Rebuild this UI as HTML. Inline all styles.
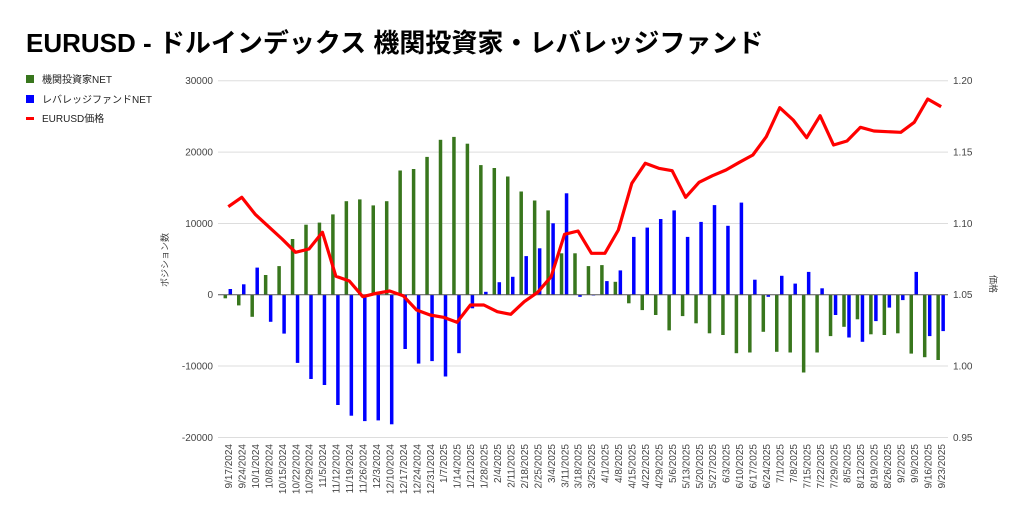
<!DOCTYPE html>
<html><head><meta charset="utf-8"><style>
html,body{margin:0;padding:0;background:#fff;}
svg{display:block;font-family:"Liberation Sans","Noto Sans CJK JP",sans-serif;}
.t{font-size:10px;fill:#444;}
</style></head><body>
<svg width="1024" height="517" viewBox="0 0 1024 517" xmlns="http://www.w3.org/2000/svg">
<text x="26" y="52" style="font-size:26px;font-weight:bold;fill:#000;font-family:'Liberation Sans','Noto Sans CJK JP',sans-serif">EURUSD - ドルインデックス 機関投資家・レバレッジファンド</text>
<rect x="26" y="75" width="8" height="8" fill="#38761d"/>
<text x="42" y="83" class="t" style="fill:#222">機関投資家NET</text>
<rect x="26" y="95" width="8" height="8" fill="#0000ff"/>
<text x="42" y="103" class="t" style="fill:#222">レバレッジファンドNET</text>
<rect x="26" y="117" width="8" height="3" fill="#ff0000"/>
<text x="42" y="122" class="t" style="fill:#222">EURUSD価格</text>
<g stroke="#ddd" stroke-width="1">
<line x1="218" x2="948" y1="80.7" y2="80.7"/>
<line x1="218" x2="948" y1="152.1" y2="152.1"/>
<line x1="218" x2="948" y1="223.5" y2="223.5"/>
<line x1="218" x2="948" y1="366" y2="366"/>
<line x1="218" x2="948" y1="437.5" y2="437.5"/>
</g>
<g class="t" text-anchor="end">
<text x="213" y="84">30000</text>
<text x="213" y="155.5">20000</text>
<text x="213" y="227">10000</text>
<text x="213" y="298">0</text>
<text x="213" y="369.5">-10000</text>
<text x="213" y="441">-20000</text>
</g>
<g class="t">
<text x="953" y="84">1.20</text>
<text x="953" y="155.5">1.15</text>
<text x="953" y="227">1.10</text>
<text x="953" y="298">1.05</text>
<text x="953" y="369.5">1.00</text>
<text x="953" y="441">0.95</text>
</g>
<text class="t" transform="translate(168,260) rotate(-90)" text-anchor="middle" style="font-size:9px">ポジション数</text>
<text class="t" transform="translate(990,284) rotate(90)" text-anchor="middle" style="font-size:9px">価格</text>
<g>
<g transform="translate(225.3,294.7)"><rect x="-1.75" y="0" width="3.5" height="3.6" fill="#38761d"/><rect x="3.25" y="-5.7" width="3.5" height="5.7" fill="#0000ff"/></g>
<g transform="translate(238.75,294.7)"><rect x="-1.75" y="0" width="3.5" height="10.7" fill="#38761d"/><rect x="3.25" y="-10.4" width="3.5" height="10.4" fill="#0000ff"/></g>
<g transform="translate(252.2,294.7)"><rect x="-1.75" y="0" width="3.5" height="22.1" fill="#38761d"/><rect x="3.25" y="-27.1" width="3.5" height="27.1" fill="#0000ff"/></g>
<g transform="translate(265.65,294.7)"><rect x="-1.75" y="-19.7" width="3.5" height="19.7" fill="#38761d"/><rect x="3.25" y="0" width="3.5" height="27.1" fill="#0000ff"/></g>
<g transform="translate(279.1,294.7)"><rect x="-1.75" y="-28.6" width="3.5" height="28.6" fill="#38761d"/><rect x="3.25" y="0" width="3.5" height="38.9" fill="#0000ff"/></g>
<g transform="translate(292.55,294.7)"><rect x="-1.75" y="-55.7" width="3.5" height="55.7" fill="#38761d"/><rect x="3.25" y="0" width="3.5" height="68.2" fill="#0000ff"/></g>
<g transform="translate(306,294.7)"><rect x="-1.75" y="-70" width="3.5" height="70" fill="#38761d"/><rect x="3.25" y="0" width="3.5" height="84.3" fill="#0000ff"/></g>
<g transform="translate(319.45,294.7)"><rect x="-1.75" y="-72.1" width="3.5" height="72.1" fill="#38761d"/><rect x="3.25" y="0" width="3.5" height="90.3" fill="#0000ff"/></g>
<g transform="translate(332.9,294.7)"><rect x="-1.75" y="-80.3" width="3.5" height="80.3" fill="#38761d"/><rect x="3.25" y="0" width="3.5" height="110.3" fill="#0000ff"/></g>
<g transform="translate(346.35,294.7)"><rect x="-1.75" y="-93.5" width="3.5" height="93.5" fill="#38761d"/><rect x="3.25" y="0" width="3.5" height="121" fill="#0000ff"/></g>
<g transform="translate(359.8,294.7)"><rect x="-1.75" y="-95.3" width="3.5" height="95.3" fill="#38761d"/><rect x="3.25" y="0" width="3.5" height="126.4" fill="#0000ff"/></g>
<g transform="translate(373.25,294.7)"><rect x="-1.75" y="-89.3" width="3.5" height="89.3" fill="#38761d"/><rect x="3.25" y="0" width="3.5" height="125.7" fill="#0000ff"/></g>
<g transform="translate(386.7,294.7)"><rect x="-1.75" y="-93.5" width="3.5" height="93.5" fill="#38761d"/><rect x="3.25" y="0" width="3.5" height="129.6" fill="#0000ff"/></g>
<g transform="translate(400.15,294.7)"><rect x="-1.75" y="-124.2" width="3.5" height="124.2" fill="#38761d"/><rect x="3.25" y="0" width="3.5" height="54.3" fill="#0000ff"/></g>
<g transform="translate(413.6,294.7)"><rect x="-1.75" y="-125.7" width="3.5" height="125.7" fill="#38761d"/><rect x="3.25" y="0" width="3.5" height="68.9" fill="#0000ff"/></g>
<g transform="translate(427.05,294.7)"><rect x="-1.75" y="-137.8" width="3.5" height="137.8" fill="#38761d"/><rect x="3.25" y="0" width="3.5" height="66.4" fill="#0000ff"/></g>
<g transform="translate(440.5,294.7)"><rect x="-1.75" y="-154.9" width="3.5" height="154.9" fill="#38761d"/><rect x="3.25" y="0" width="3.5" height="81.8" fill="#0000ff"/></g>
<g transform="translate(453.95,294.7)"><rect x="-1.75" y="-157.8" width="3.5" height="157.8" fill="#38761d"/><rect x="3.25" y="0" width="3.5" height="58.5" fill="#0000ff"/></g>
<g transform="translate(467.4,294.7)"><rect x="-1.75" y="-151" width="3.5" height="151" fill="#38761d"/><rect x="3.25" y="0" width="3.5" height="13.6" fill="#0000ff"/></g>
<g transform="translate(480.85,294.7)"><rect x="-1.75" y="-129.6" width="3.5" height="129.6" fill="#38761d"/><rect x="3.25" y="-2.9" width="3.5" height="2.9" fill="#0000ff"/></g>
<g transform="translate(494.3,294.7)"><rect x="-1.75" y="-126.7" width="3.5" height="126.7" fill="#38761d"/><rect x="3.25" y="-12.5" width="3.5" height="12.5" fill="#0000ff"/></g>
<g transform="translate(507.75,294.7)"><rect x="-1.75" y="-118.2" width="3.5" height="118.2" fill="#38761d"/><rect x="3.25" y="-17.9" width="3.5" height="17.9" fill="#0000ff"/></g>
<g transform="translate(521.2,294.7)"><rect x="-1.75" y="-103.2" width="3.5" height="103.2" fill="#38761d"/><rect x="3.25" y="-38.6" width="3.5" height="38.6" fill="#0000ff"/></g>
<g transform="translate(534.65,294.7)"><rect x="-1.75" y="-94.2" width="3.5" height="94.2" fill="#38761d"/><rect x="3.25" y="-46.4" width="3.5" height="46.4" fill="#0000ff"/></g>
<g transform="translate(548.1,294.7)"><rect x="-1.75" y="-84.3" width="3.5" height="84.3" fill="#38761d"/><rect x="3.25" y="-71.4" width="3.5" height="71.4" fill="#0000ff"/></g>
<g transform="translate(561.55,294.7)"><rect x="-1.75" y="-41.4" width="3.5" height="41.4" fill="#38761d"/><rect x="3.25" y="-101.4" width="3.5" height="101.4" fill="#0000ff"/></g>
<g transform="translate(575,294.7)"><rect x="-1.75" y="-41.4" width="3.5" height="41.4" fill="#38761d"/><rect x="3.25" y="0" width="3.5" height="2.1" fill="#0000ff"/></g>
<g transform="translate(588.45,294.7)"><rect x="-1.75" y="-28.6" width="3.5" height="28.6" fill="#38761d"/><rect x="3.25" y="0" width="3.5" height="0.8" fill="#0000ff"/></g>
<g transform="translate(601.9,294.7)"><rect x="-1.75" y="-29.6" width="3.5" height="29.6" fill="#38761d"/><rect x="3.25" y="-13.6" width="3.5" height="13.6" fill="#0000ff"/></g>
<g transform="translate(615.35,294.7)"><rect x="-1.75" y="-12.9" width="3.5" height="12.9" fill="#38761d"/><rect x="3.25" y="-24.3" width="3.5" height="24.3" fill="#0000ff"/></g>
<g transform="translate(628.8,294.7)"><rect x="-1.75" y="0" width="3.5" height="8.6" fill="#38761d"/><rect x="3.25" y="-57.8" width="3.5" height="57.8" fill="#0000ff"/></g>
<g transform="translate(642.25,294.7)"><rect x="-1.75" y="0" width="3.5" height="15.4" fill="#38761d"/><rect x="3.25" y="-67.1" width="3.5" height="67.1" fill="#0000ff"/></g>
<g transform="translate(655.7,294.7)"><rect x="-1.75" y="0" width="3.5" height="20.3" fill="#38761d"/><rect x="3.25" y="-75.7" width="3.5" height="75.7" fill="#0000ff"/></g>
<g transform="translate(669.15,294.7)"><rect x="-1.75" y="0" width="3.5" height="35.7" fill="#38761d"/><rect x="3.25" y="-84.3" width="3.5" height="84.3" fill="#0000ff"/></g>
<g transform="translate(682.6,294.7)"><rect x="-1.75" y="0" width="3.5" height="21.4" fill="#38761d"/><rect x="3.25" y="-57.8" width="3.5" height="57.8" fill="#0000ff"/></g>
<g transform="translate(696.05,294.7)"><rect x="-1.75" y="0" width="3.5" height="28.6" fill="#38761d"/><rect x="3.25" y="-72.8" width="3.5" height="72.8" fill="#0000ff"/></g>
<g transform="translate(709.5,294.7)"><rect x="-1.75" y="0" width="3.5" height="38.6" fill="#38761d"/><rect x="3.25" y="-89.6" width="3.5" height="89.6" fill="#0000ff"/></g>
<g transform="translate(722.95,294.7)"><rect x="-1.75" y="0" width="3.5" height="40.3" fill="#38761d"/><rect x="3.25" y="-68.9" width="3.5" height="68.9" fill="#0000ff"/></g>
<g transform="translate(736.4,294.7)"><rect x="-1.75" y="0" width="3.5" height="58.5" fill="#38761d"/><rect x="3.25" y="-92.1" width="3.5" height="92.1" fill="#0000ff"/></g>
<g transform="translate(749.85,294.7)"><rect x="-1.75" y="0" width="3.5" height="57.8" fill="#38761d"/><rect x="3.25" y="-15" width="3.5" height="15" fill="#0000ff"/></g>
<g transform="translate(763.3,294.7)"><rect x="-1.75" y="0" width="3.5" height="37.1" fill="#38761d"/><rect x="3.25" y="0" width="3.5" height="2.1" fill="#0000ff"/></g>
<g transform="translate(776.75,294.7)"><rect x="-1.75" y="0" width="3.5" height="57.1" fill="#38761d"/><rect x="3.25" y="-18.9" width="3.5" height="18.9" fill="#0000ff"/></g>
<g transform="translate(790.2,294.7)"><rect x="-1.75" y="0" width="3.5" height="57.8" fill="#38761d"/><rect x="3.25" y="-11.1" width="3.5" height="11.1" fill="#0000ff"/></g>
<g transform="translate(803.65,294.7)"><rect x="-1.75" y="0" width="3.5" height="77.8" fill="#38761d"/><rect x="3.25" y="-22.8" width="3.5" height="22.8" fill="#0000ff"/></g>
<g transform="translate(817.1,294.7)"><rect x="-1.75" y="0" width="3.5" height="57.8" fill="#38761d"/><rect x="3.25" y="-6.4" width="3.5" height="6.4" fill="#0000ff"/></g>
<g transform="translate(830.55,294.7)"><rect x="-1.75" y="0" width="3.5" height="41.4" fill="#38761d"/><rect x="3.25" y="0" width="3.5" height="20.3" fill="#0000ff"/></g>
<g transform="translate(844,294.7)"><rect x="-1.75" y="0" width="3.5" height="32.1" fill="#38761d"/><rect x="3.25" y="0" width="3.5" height="42.8" fill="#0000ff"/></g>
<g transform="translate(857.45,294.7)"><rect x="-1.75" y="0" width="3.5" height="24.6" fill="#38761d"/><rect x="3.25" y="0" width="3.5" height="47.1" fill="#0000ff"/></g>
<g transform="translate(870.9,294.7)"><rect x="-1.75" y="0" width="3.5" height="39.6" fill="#38761d"/><rect x="3.25" y="0" width="3.5" height="26.4" fill="#0000ff"/></g>
<g transform="translate(884.35,294.7)"><rect x="-1.75" y="0" width="3.5" height="40.3" fill="#38761d"/><rect x="3.25" y="0" width="3.5" height="12.9" fill="#0000ff"/></g>
<g transform="translate(897.8,294.7)"><rect x="-1.75" y="0" width="3.5" height="38.6" fill="#38761d"/><rect x="3.25" y="0" width="3.5" height="5.4" fill="#0000ff"/></g>
<g transform="translate(911.25,294.7)"><rect x="-1.75" y="0" width="3.5" height="58.9" fill="#38761d"/><rect x="3.25" y="-22.8" width="3.5" height="22.8" fill="#0000ff"/></g>
<g transform="translate(924.7,294.7)"><rect x="-1.75" y="0" width="3.5" height="62.5" fill="#38761d"/><rect x="3.25" y="0" width="3.5" height="41.4" fill="#0000ff"/></g>
<g transform="translate(938.15,294.7)"><rect x="-1.75" y="0" width="3.5" height="65.3" fill="#38761d"/><rect x="3.25" y="0" width="3.5" height="36.4" fill="#0000ff"/></g>
</g>
<line x1="218" x2="948" y1="294.7" y2="294.7" stroke="#555" stroke-width="1"/>
<polyline fill="none" stroke="#ff0000" stroke-width="3.2" stroke-linejoin="round" points="228.3,206.7 241.75,197.3 255.2,214.3 268.65,226.7 282.1,239 295.55,252.3 309,249 322.45,232.3 335.9,276.3 349.35,281 362.8,296.7 376.25,293.3 389.7,291 403.15,295.7 416.6,310 430.05,315 443.5,317.3 456.95,322.3 470.4,305 483.85,305 497.3,311.7 510.75,314.3 524.2,301.7 537.65,292.3 551.1,276.7 564.55,234.3 578,231 591.45,253.3 604.9,253.3 618.35,230 631.8,183.3 645.25,163.3 658.7,168.3 672.15,170.7 685.6,197.3 699.05,182.3 712.5,175.7 725.95,170 739.4,162.3 752.85,155 766.3,136.7 779.75,107.7 793.2,120 806.65,137.7 820.1,115.7 833.55,145 847,141 860.45,127.3 873.9,131 887.35,131.7 900.8,132.3 914.25,122.3 927.7,99 941.15,106.7"/>
<g class="t" text-anchor="end">
<text transform="translate(232,444) rotate(-90)">9/17/2024</text>
<text transform="translate(245.45,444) rotate(-90)">9/24/2024</text>
<text transform="translate(258.9,444) rotate(-90)">10/1/2024</text>
<text transform="translate(272.35,444) rotate(-90)">10/8/2024</text>
<text transform="translate(285.8,444) rotate(-90)">10/15/2024</text>
<text transform="translate(299.25,444) rotate(-90)">10/22/2024</text>
<text transform="translate(312.7,444) rotate(-90)">10/29/2024</text>
<text transform="translate(326.15,444) rotate(-90)">11/5/2024</text>
<text transform="translate(339.6,444) rotate(-90)">11/12/2024</text>
<text transform="translate(353.05,444) rotate(-90)">11/19/2024</text>
<text transform="translate(366.5,444) rotate(-90)">11/26/2024</text>
<text transform="translate(379.95,444) rotate(-90)">12/3/2024</text>
<text transform="translate(393.4,444) rotate(-90)">12/10/2024</text>
<text transform="translate(406.85,444) rotate(-90)">12/17/2024</text>
<text transform="translate(420.3,444) rotate(-90)">12/24/2024</text>
<text transform="translate(433.75,444) rotate(-90)">12/31/2024</text>
<text transform="translate(447.2,444) rotate(-90)">1/7/2025</text>
<text transform="translate(460.65,444) rotate(-90)">1/14/2025</text>
<text transform="translate(474.1,444) rotate(-90)">1/21/2025</text>
<text transform="translate(487.55,444) rotate(-90)">1/28/2025</text>
<text transform="translate(501,444) rotate(-90)">2/4/2025</text>
<text transform="translate(514.45,444) rotate(-90)">2/11/2025</text>
<text transform="translate(527.9,444) rotate(-90)">2/18/2025</text>
<text transform="translate(541.35,444) rotate(-90)">2/25/2025</text>
<text transform="translate(554.8,444) rotate(-90)">3/4/2025</text>
<text transform="translate(568.25,444) rotate(-90)">3/11/2025</text>
<text transform="translate(581.7,444) rotate(-90)">3/18/2025</text>
<text transform="translate(595.15,444) rotate(-90)">3/25/2025</text>
<text transform="translate(608.6,444) rotate(-90)">4/1/2025</text>
<text transform="translate(622.05,444) rotate(-90)">4/8/2025</text>
<text transform="translate(635.5,444) rotate(-90)">4/15/2025</text>
<text transform="translate(648.95,444) rotate(-90)">4/22/2025</text>
<text transform="translate(662.4,444) rotate(-90)">4/29/2025</text>
<text transform="translate(675.85,444) rotate(-90)">5/6/2025</text>
<text transform="translate(689.3,444) rotate(-90)">5/13/2025</text>
<text transform="translate(702.75,444) rotate(-90)">5/20/2025</text>
<text transform="translate(716.2,444) rotate(-90)">5/27/2025</text>
<text transform="translate(729.65,444) rotate(-90)">6/3/2025</text>
<text transform="translate(743.1,444) rotate(-90)">6/10/2025</text>
<text transform="translate(756.55,444) rotate(-90)">6/17/2025</text>
<text transform="translate(770,444) rotate(-90)">6/24/2025</text>
<text transform="translate(783.45,444) rotate(-90)">7/1/2025</text>
<text transform="translate(796.9,444) rotate(-90)">7/8/2025</text>
<text transform="translate(810.35,444) rotate(-90)">7/15/2025</text>
<text transform="translate(823.8,444) rotate(-90)">7/22/2025</text>
<text transform="translate(837.25,444) rotate(-90)">7/29/2025</text>
<text transform="translate(850.7,444) rotate(-90)">8/5/2025</text>
<text transform="translate(864.15,444) rotate(-90)">8/12/2025</text>
<text transform="translate(877.6,444) rotate(-90)">8/19/2025</text>
<text transform="translate(891.05,444) rotate(-90)">8/26/2025</text>
<text transform="translate(904.5,444) rotate(-90)">9/2/2025</text>
<text transform="translate(917.95,444) rotate(-90)">9/9/2025</text>
<text transform="translate(931.4,444) rotate(-90)">9/16/2025</text>
<text transform="translate(944.85,444) rotate(-90)">9/23/2025</text>
</g>
</svg>
</body></html>
